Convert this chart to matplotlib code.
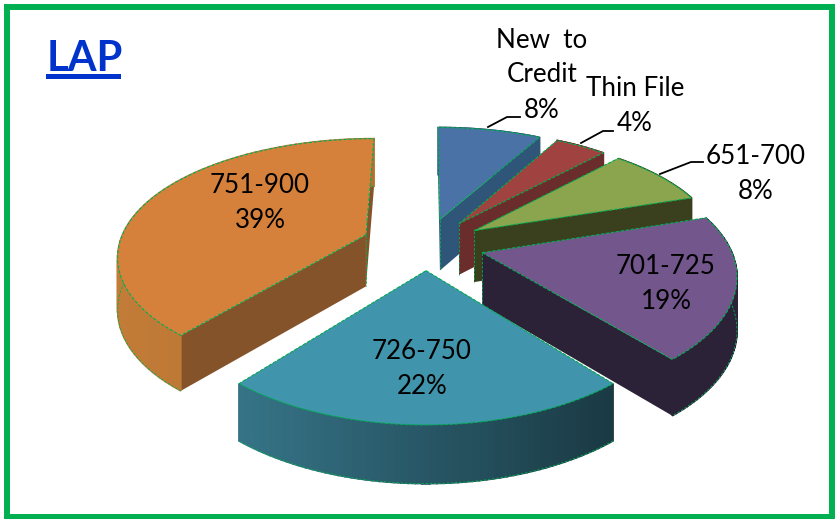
import numpy as np
import matplotlib
matplotlib.use("Agg")
import matplotlib.pyplot as plt
from matplotlib.patches import Polygon, Rectangle

plt.rcParams['font.family'] = ['Lato', 'DejaVu Sans']

categorias = ["New  to\nCredit", "Thin File", "651-700", "701-725", "726-750", "751-900"]
valores = [8, 4, 8, 19, 22, 39]

cor_topo = ["#4a72a6", "#a0423f", "#8aa54d", "#72568c", "#4095ad", "#d6813b"]
cor_corte = ["#2f5578", "#6a2d2b", "#3a401e", "#2b2238", "#2b6070", "#85532a"]
cor_parede_a = ["#2f5578", "#6a2d2b", "#3a401e", "#2b2238", "#1a3a44", "#b5702f"]
cor_parede_b = ["#2f5578", "#6a2d2b", "#3a401e", "#2b2238", "#367488", "#c27c38"]
explode = [0.235, 0.235, 0.235, 0.235, 0.212, 0.262]
pos_rotulo = [(542, 75), (635, 106), (756, 174), (666, 284), (422, 369), (260, 203)]
VERDE = "#00b050"

# projecao do disco (perspectiva), em pixels da imagem
XC, YC, HOR = 426, 245, 412
ESCALA, G = 247, 0.00027
ALTURA = 52


def proj(x, y):
    h0 = YC + HOR
    h = 1 / (1 / h0 + G * y)
    return XC + ESCALA * x * (h / h0) ** 0.9, h - HOR, ALTURA * (h / h0) ** 0.5


def mistura(c1, c2, t):
    a = np.array(matplotlib.colors.to_rgb(c1))
    b = np.array(matplotlib.colors.to_rgb(c2))
    return a * (1 - t) + b * t


fig = plt.figure(figsize=(8.36, 5.19), dpi=100)
ax = fig.add_axes([0, 0, 1, 1])
ax.set_xlim(0, 836)
ax.set_ylim(519, 0)
ax.axis("off")

bordas = np.cumsum([0] + valores) / sum(valores) * 2 * np.pi
ordem = [0, 1, 2, 3, 5, 4]

for n, i in enumerate(ordem):
    z = 2 + n * 0.1
    a0, a1 = bordas[i], bordas[i + 1]
    meio = (a0 + a1) / 2
    ox, oy = explode[i] * np.sin(meio), explode[i] * np.cos(meio)
    angs = np.linspace(a0, a1, 60)
    sx, sy, alt = proj(ox + np.sin(angs), oy + np.cos(angs))
    px, py, palt = proj(ox, oy)

    # faces de corte
    for k in (0, -1):
        ax.add_patch(Polygon([(px, py), (sx[k], sy[k]), (sx[k], sy[k] + alt[k]), (px, py + palt)],
                             closed=True, fc=cor_corte[i], ec="none", zorder=z))
    # parede externa com gradiente
    xmin, xmax = sx.min(), sx.max()
    for k in range(len(angs) - 1):
        t = (sx[k] - xmin) / max(xmax - xmin, 1)
        cor = mistura(cor_parede_b[i], cor_parede_a[i], t)
        ax.add_patch(Polygon([(sx[k], sy[k]), (sx[k + 1], sy[k + 1]),
                              (sx[k + 1], sy[k + 1] + alt[k + 1]), (sx[k], sy[k] + alt[k])],
                             closed=True, fc=cor, ec=cor, lw=1.2, zorder=z))
    # so as fatias da frente mostram a borda de baixo
    if i >= 3:
        ax.plot(sx, sy + alt, color=VERDE, lw=0.6, ls=(0, (3, 2)), zorder=z + 0.01)
    ax.plot([px, px], [py, py + palt], color=VERDE, lw=0.6, ls=(0, (3, 2)), zorder=z + 0.01)
    # topo
    contorno = [(px, py)] + list(zip(sx, sy))
    ax.add_patch(Polygon(contorno, closed=True, fc=cor_topo[i], ec=VERDE, lw=0.8,
                         ls=(0, (3, 1.5)), zorder=z + 0.05))

for cat, val, pos in zip(categorias, valores, pos_rotulo):
    ax.text(pos[0], pos[1], f"{cat}\n{val}%", ha="center", va="center", fontsize=18.7,
            color="black", linespacing=1.5, zorder=6)

# linhas de chamada
ax.plot([488, 507, 520], [127, 117, 117], color="black", lw=1.3, zorder=5)
ax.plot([581, 603, 613], [143, 131, 131], color="black", lw=1.3, zorder=5)
ax.plot([660, 691, 703], [174, 162, 162], color="black", lw=1.3, zorder=5)

# titulo
ax.text(47, 71, "LAP", fontsize=30, fontweight="bold", color="#0033cc", ha="left", va="baseline", zorder=6)
ax.add_patch(Rectangle((46, 74), 75, 5, fc="#0033cc", ec="none", zorder=6))

# moldura
ax.add_patch(Rectangle((7, 7), 825, 510, fc="none", ec=VERDE, lw=4.3, zorder=7))

fig.savefig("out.png", dpi=100, facecolor="white")
